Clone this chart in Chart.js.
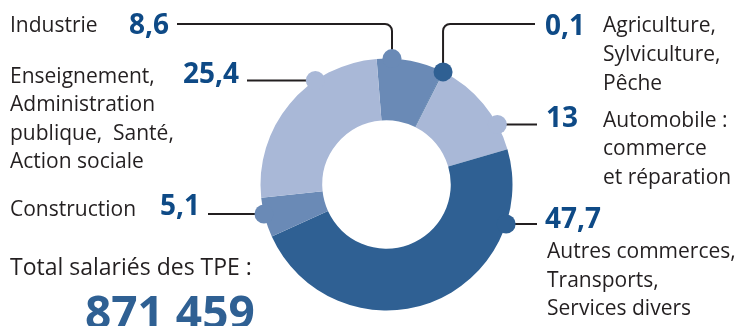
<!DOCTYPE html>
<html>
<head>
<meta charset="utf-8">
<script src="https://cdn.jsdelivr.net/npm/chart.js@4"></script>
<style>
  html, body { margin: 0; padding: 0; background: #fff; }
  canvas { display: block; }
</style>
</head>
<body>
<canvas id="myChart" width="739" height="326"></canvas>
<script>
// parts of salaried employment in TPE by sector (%)
const categories = [
  'Industrie',
  'Agriculture, Sylviculture, Pêche',
  'Automobile : commerce et réparation',
  'Autres commerces, Transports, Services divers',
  'Construction',
  'Enseignement, Administration publique, Santé, Action sociale'
]
const values = [8.6, 0.1, 13, 47.7, 5.1, 25.4]
const valueTexts = ['8,6', '0,1', '13', '47,7', '5,1', '25,4']
const labelLines = [
  ['Industrie'],
  ['Agriculture,', 'Sylviculture,', 'Pêche'],
  ['Automobile :', 'commerce', 'et réparation'],
  ['Autres commerces,', 'Transports,', 'Services divers'],
  ['Construction'],
  ['Enseignement,', 'Administration', 'publique,  Santé,', 'Action sociale']
]
const totalLabel = 'Total salariés des TPE :'
const totalValue = '871 459'

const DARK = '#2f6093', MID = '#6a8ab6', LIGHT = '#a9b8d7'
const colors = [MID, DARK, LIGHT, DARK, MID, LIGHT]

const FONT = '"Open Sans", "Noto Sans", sans-serif'
const TEXT = '#231f20'
const NUM = '#0e4a86'

// layout of each callout (lead line + texts)
const callouts = [
  { kind: 'up', dx: 5.5, lineY: 24, end: 177, side: 'left', numY: 34, textX: 10, textY: 32 },
  { kind: 'upmid', lineY: 24, end: 535, side: 'right', numX: 545, numY: 35, textX: 603, textY: 32, lh: 29 },
  { kind: 'flat', lineY: 124.5, end: 537, side: 'right', numX: 546, numY: 127, textX: 603, textY: 127, lh: 28.3 },
  { kind: 'flat', lineY: 224, end: 537, side: 'right', numX: 545, numY: 228, textX: 547, textY: 258, lh: 28.5 },
  { kind: 'flat', lineY: 214, end: 208, side: 'left', numY: 215, textX: 10, textY: 215.5 },
  { kind: 'flat', lineY: 80.5, end: 247, side: 'left', numY: 83, textX: 10, textY: 83, lh: 28.4 }
]

const callout = {
  id: 'callout',
  afterDraw(chart) {
    const ctx = chart.ctx
    const arcs = chart.getDatasetMeta(0).data
    const cx = arcs[0].x, cy = arcs[0].y, R = arcs[0].outerRadius
    ctx.save()
    callouts.forEach((c, i) => {
      let px, py
      ctx.strokeStyle = TEXT
      ctx.lineWidth = 2
      ctx.beginPath()
      if (c.kind === 'flat') {
        const h = Math.sqrt(Math.max(R * R - (c.lineY - cy) * (c.lineY - cy), 0))
        px = c.side === 'left' ? cx - h : cx + h
        py = c.lineY
        ctx.moveTo(c.end, c.lineY)
        ctx.lineTo(px, py)
      } else {
        if (c.kind === 'up') {
          px = cx + c.dx
        } else {
          const a = arcs[i]
          const mid = (a.startAngle + a.endAngle) / 2
          px = cx + R * Math.cos(mid)
        }
        py = cy - Math.sqrt(R * R - (px - cx) * (px - cx))
        const r = 7
        const dir = c.side === 'left' ? -1 : 1
        ctx.moveTo(px, py)
        ctx.lineTo(px, c.lineY + r)
        ctx.arcTo(px, c.lineY, px + dir * r, c.lineY, r)
        ctx.lineTo(c.end, c.lineY)
      }
      ctx.stroke()
      // dot on the ring
      ctx.fillStyle = colors[i]
      ctx.beginPath()
      ctx.arc(px, py, 9.5, 0, Math.PI * 2)
      ctx.fill()

      // value
      ctx.fillStyle = NUM
      ctx.font = 'bold 28px ' + FONT
      ctx.textBaseline = 'alphabetic'
      if (c.side === 'left') {
        ctx.textAlign = 'right'
        ctx.fillText(valueTexts[i], c.end - 8, c.numY)
      } else {
        ctx.textAlign = 'left'
        ctx.fillText(valueTexts[i], c.numX, c.numY)
      }
      // category text
      ctx.fillStyle = TEXT
      ctx.font = '21px ' + FONT
      ctx.textAlign = 'left'
      labelLines[i].forEach((t, k) => {
        ctx.fillText(t, c.textX, c.textY + k * (c.lh || 28))
      })
    })
    ctx.fillStyle = TEXT
    ctx.font = '23px ' + FONT
    ctx.textAlign = 'left'
    ctx.fillText(totalLabel, 10, 275)
    ctx.fillStyle = DARK
    ctx.font = 'bold 46px ' + FONT
    ctx.fillText(totalValue, 85, 329)
    ctx.restore()
  }
}

const ctx = document.getElementById('myChart')

const data = {
  labels: categories,
  datasets: [{
    data: values,
    backgroundColor: colors,
    borderWidth: 0,
    hoverOffset: 0
  }]
}

const config = {
  type: 'doughnut',
  data: data,
  options: {
    responsive: false,
    animation: false,
    rotation: -4.5,
    cutout: '51%',
    layout: {
      padding: { left: 260.5, right: 226.5, top: 58.5, bottom: 15.5 }
    },
    plugins: {
      legend: { display: false },
      tooltip: { enabled: false }
    }
  },
  plugins: [callout]
}

const myChart = new Chart(ctx, config)
</script>
</body>
</html>
